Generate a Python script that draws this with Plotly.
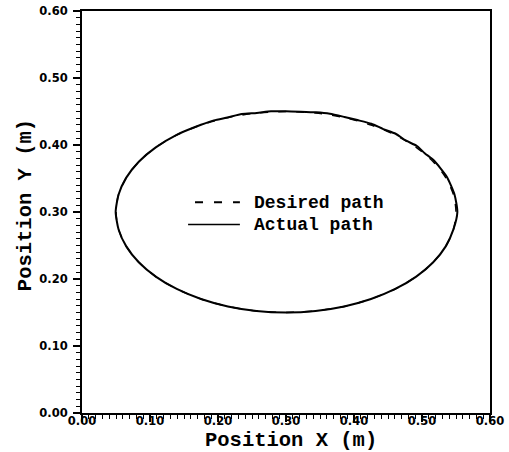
import plotly.graph_objects as go

# Desired path (ellipse)
desired_x = [0.550, 0.5462, 0.5349, 0.5165, 0.4915, 0.4607, 0.425, 0.3855, 0.3434, 0.300,
             0.2566, 0.2145, 0.175, 0.1393, 0.1085, 0.0835, 0.0651, 0.0538, 0.050,
             0.0538, 0.0651, 0.0835, 0.1085, 0.1393, 0.175, 0.2145, 0.2566, 0.300,
             0.3434, 0.3855, 0.425, 0.4607, 0.4915, 0.5165, 0.5349, 0.5462, 0.550]
desired_y = [0.300, 0.3260, 0.3513, 0.375, 0.3964, 0.4149, 0.4299, 0.4410, 0.4477, 0.450,
             0.4477, 0.4410, 0.4299, 0.4149, 0.3964, 0.375, 0.3513, 0.3260, 0.300,
             0.2740, 0.2487, 0.225, 0.2036, 0.1851, 0.1701, 0.1590, 0.1523, 0.150,
             0.1523, 0.1590, 0.1701, 0.1851, 0.2036, 0.225, 0.2487, 0.2740, 0.300]

# Actual path (slightly wiggly on top half)
actual_x = [0.552, 0.5478, 0.5362, 0.5172, 0.5040, 0.4925, 0.4760, 0.4612, 0.4430, 0.4255,
            0.4050, 0.3860, 0.3645, 0.3440, 0.3215, 0.300, 0.2780, 0.2570, 0.2350, 0.2145,
            0.1940, 0.1750, 0.1392, 0.1085, 0.0835, 0.0651, 0.0538, 0.0495,
            0.0538, 0.0651, 0.0835, 0.1085, 0.1393, 0.175, 0.2145, 0.2566, 0.300,
            0.3434, 0.3855, 0.425, 0.4607, 0.4915, 0.5165, 0.5349, 0.5462, 0.552]
actual_y = [0.300, 0.3262, 0.3530, 0.3772, 0.3878, 0.3985, 0.4068, 0.4168, 0.4238, 0.4318,
            0.4372, 0.4418, 0.4466, 0.4488, 0.4498, 0.4505, 0.4502, 0.4478, 0.4462, 0.4412,
            0.4368, 0.4302, 0.4152, 0.3964, 0.375, 0.3513, 0.3260, 0.300,
            0.2740, 0.2487, 0.225, 0.2036, 0.1851, 0.1701, 0.1590, 0.1523, 0.150,
            0.1523, 0.1590, 0.1701, 0.1851, 0.2036, 0.225, 0.2487, 0.2740, 0.300]

series_names = ["Desired path", "Actual path"]

major_ticks = [0.0, 0.1, 0.2, 0.3, 0.4, 0.5, 0.6]
minor_ticks = [round(i * 0.01, 2) for i in range(61) if i % 10 != 0]

mono = "Courier New, Courier, Nimbus Mono PS, FreeMono, Liberation Mono, monospace"
title_font = dict(family=mono, size=20.5, color="black", weight="bold")
tick_font = dict(family="DejaVu Sans", size=11.5, color="black", weight="bold")
legend_font = dict(family=mono, size=18, color="black", weight="bold")

fig = go.Figure()
fig.add_trace(go.Scatter(x=desired_x, y=desired_y, mode="lines", name=series_names[0],
                         line=dict(color="black", width=1.5, dash="8px,10px", shape="spline", smoothing=0.8)))
fig.add_trace(go.Scatter(x=actual_x, y=actual_y, mode="lines", name=series_names[1],
                         line=dict(color="black", width=2, shape="spline", smoothing=0.6)))

axis_common = dict(
    range=[0, 0.6],
    showline=True, linecolor="black", linewidth=2, mirror=True,
    showgrid=False, zeroline=False,
    tickmode="array", tickvals=major_ticks,
    ticks="outside", ticklen=7, tickwidth=1.5, tickcolor="black",
    tickformat=".2f", tickfont=tick_font,
    minor=dict(tickmode="array", tickvals=minor_ticks, ticks="outside", ticklen=4,
               tickwidth=1.2, tickcolor="black", showgrid=False),
)

fig.update_xaxes(ticklabelstandoff=-11, **axis_common)
fig.update_yaxes(ticklabelstandoff=3, **axis_common)

# axis titles
fig.add_annotation(text="Position X (m)", xref="paper", yref="paper", x=0.512, y=0,
                   xanchor="center", yanchor="top", yshift=-14, showarrow=False, font=title_font)
fig.add_annotation(text="Position Y (m)", xref="paper", yref="paper", x=0, y=0.517,
                   xanchor="center", yanchor="middle", xshift=-57, textangle=-90,
                   showarrow=False, font=title_font)

# legend (drawn inside plot area)
fig.add_shape(type="line", xref="paper", yref="paper", x0=0.277, x1=0.387, y0=0.524, y1=0.524,
              line=dict(color="black", width=2, dash="8px,11px"))
fig.add_shape(type="line", xref="paper", yref="paper", x0=0.260, x1=0.387, y0=0.469, y1=0.469,
              line=dict(color="black", width=1.5))
fig.add_annotation(text=series_names[0], xref="paper", yref="paper", x=0.4167, y=0.5224,
                   xanchor="left", yanchor="middle", showarrow=False, font=legend_font)
fig.add_annotation(text=series_names[1], xref="paper", yref="paper", x=0.4167, y=0.4677,
                   xanchor="left", yanchor="middle", showarrow=False, font=legend_font)

fig.update_layout(
    width=509, height=452,
    margin=dict(l=82, r=19, t=11, b=39, autoexpand=False),
    paper_bgcolor="white", plot_bgcolor="white",
    showlegend=False,
)

fig.write_html("out.html")
